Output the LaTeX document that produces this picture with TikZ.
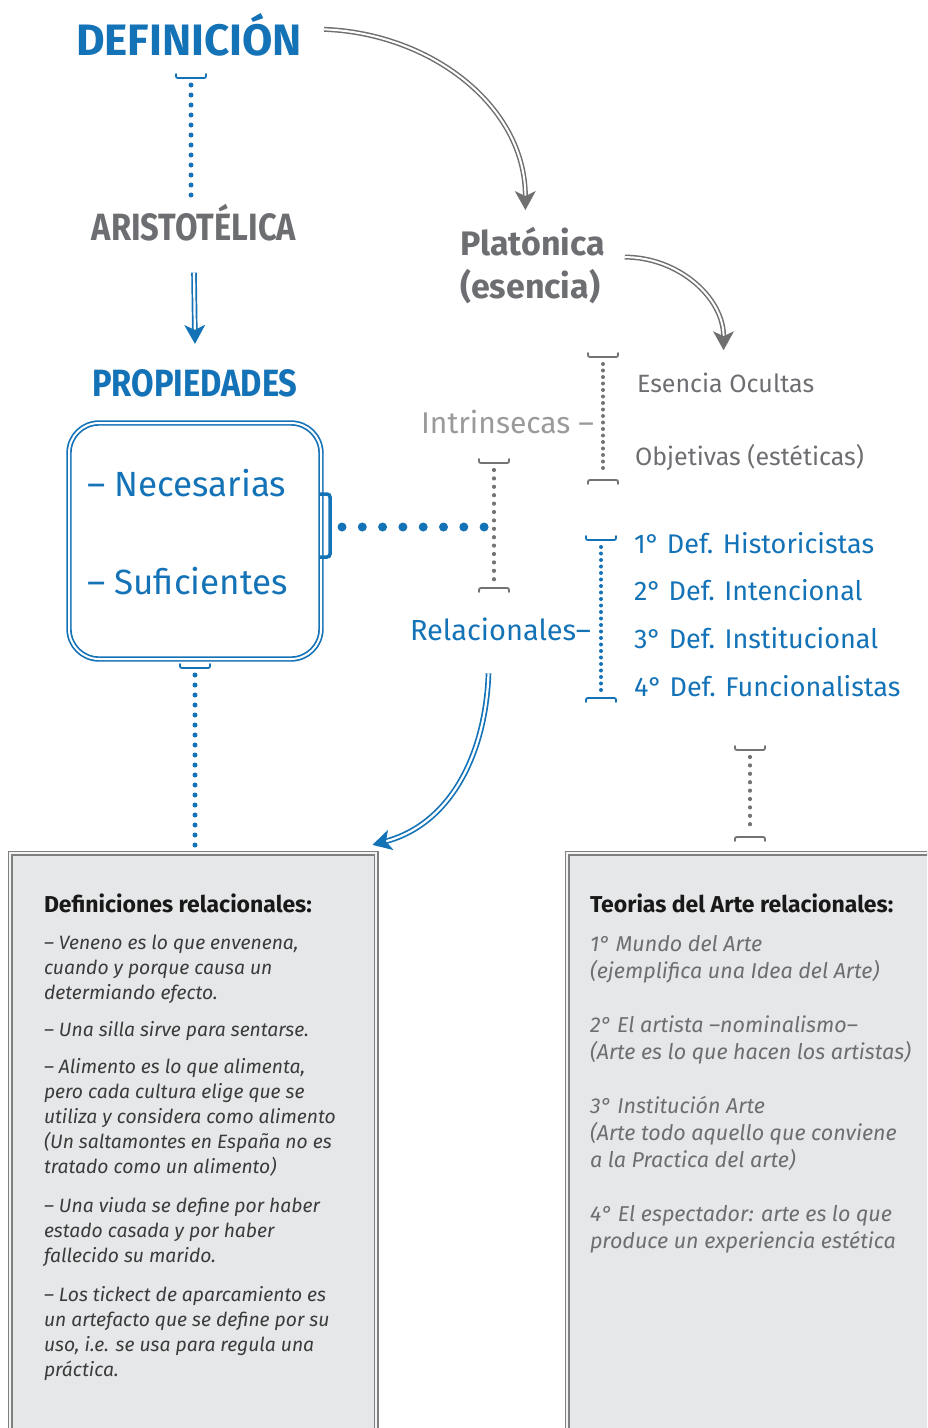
\documentclass[tikz,border=0pt]{standalone}
\usepackage{fontspec}
\setmainfont{Fira Sans}
\newfontfamily\headfont{Fira Sans}[FakeStretch=0.86]
\usetikzlibrary{arrows.meta,decorations.markings}
\definecolor{defblue}{HTML}{1472B7}
\definecolor{txtgray}{HTML}{6D6E71}
\definecolor{ltgray}{HTML}{9A9A9A}
\definecolor{dotgray}{HTML}{737373}
\definecolor{arrgray}{HTML}{707070}
\definecolor{boxfill}{HTML}{E6E7E8}
\definecolor{boxline}{HTML}{808080}
\definecolor{boxtext}{HTML}{3B3B3B}

\begin{document}
\begin{tikzpicture}[x=1pt, y=1pt,
  every node/.style={inner sep=0pt, outer sep=0pt},
  tcap/.pic={\draw[line width=1.8pt, line cap=round] (-15,4) .. controls (-15,0) .. (-11,0) -- (11,0) .. controls (15,0) .. (15,4);},
  middots/.style={line width=5pt, line cap=round, dash pattern=on 0pt off 10pt},
  smalldots/.style={line width=4pt, line cap=round, dash pattern=on 0pt off 6.5pt},
  graydots/.style={dotgray, line width=4.2pt, line cap=round, dash pattern=on 0pt off 8.4pt},
  bigdots/.style={defblue, line width=9pt, line cap=round, dash pattern=on 0pt off 20.3pt},
  arrowtip/.style={postaction={decorate, decoration={markings,
    mark=at position 0.998 with {\fill[#1] (0,0) -- (-19,10.5) -- (-14,0) -- (-19,-10.5) -- cycle;}}}},
  grayarrow/.style={draw=arrgray, line width=1.5pt, double=white, double distance=2pt,
    shorten >=14pt, arrowtip=arrgray},
  bluearrow/.style={draw=defblue, line width=1.7pt, double=white, double distance=2.2pt,
    shorten >=14pt, arrowtip=defblue},
  head/.style={font=\headfont\bfseries\fontsize{38}{38}\selectfont},
  propbox/.style={draw=defblue, line width=1.7pt, double=white, double distance=2pt,
    rounded corners=30pt, minimum width=252pt, minimum height=236pt},
  graybox/.style={fill=boxfill, draw=boxline, line width=1.5pt, double=boxfill!50!white, double distance=2pt},
  boxtitle/.style={anchor=base west, font=\bfseries\fontsize{23}{23}\selectfont, text=black!90},
]
\useasboundingbox (0,0) rectangle (927,-1428);
\clip (0,0) rectangle (927,-1428);
% left column
\node[defblue, anchor=base, font=\bfseries\fontsize{44}{44}\selectfont] (def) at (189,-55) {DEFINICIÓN};
\node[head, txtgray, anchor=base] (aris) at (194,-240) {ARISTOTÉLICA};
\node[head, defblue, anchor=base] (prop) at (195,-396) {PROPIEDADES};
\node[propbox] (pbox) at (195,-541) {};
\node[defblue, anchor=base west, font=\fontsize{35}{35}\selectfont] (nec) at (87,-496) {– Necesarias};
\node[defblue, anchor=base west, font=\fontsize{35}{35}\selectfont] (suf) at (87,-594) {– Suficientes};
% right column
\node[txtgray, anchor=base west, font=\bfseries\fontsize{34}{34}\selectfont] (plat) at (460,-255) {Platónica};
\node[txtgray, anchor=base west, font=\bfseries\fontsize{34}{34}\selectfont] (esc) at (460,-298) {(esencia)};
\node[ltgray, anchor=base east, font=\fontsize{30}{30}\selectfont] (intr) at (594,-433) {Intrinsecas –};
\node[txtgray, anchor=base west, font=\fontsize{25}{25}\selectfont] (ocul) at (637,-392) {Esencia Ocultas};
\node[txtgray, anchor=base west, font=\fontsize{25}{25}\selectfont] (obj) at (635,-465) {Objetivas (estéticas)};
\node[defblue, anchor=base east, font=\fontsize{29}{29}\selectfont] (rel) at (591,-640) {Relacionales–};
\node[defblue, anchor=base west, font=\fontsize{27}{27}\selectfont] (d1) at (634,-553) {1° Def. Historicistas};
\node[defblue, anchor=base west, font=\fontsize{27}{27}\selectfont] (d2) at (634,-600) {2° Def. Intencional};
\node[defblue, anchor=base west, font=\fontsize{27}{27}\selectfont] (d3) at (634,-648) {3° Def. Institucional};
\node[defblue, anchor=base west, font=\fontsize{27}{27}\selectfont] (d4) at (634,-696) {4° Def. Funcionalistas};
% gray boxes
\draw[graybox] (10,-853) rectangle (376,-1445);
\draw[graybox] (567,-853) rectangle (945,-1445);
\coordinate (boxL) at (376,-853);
\node[boxtitle] (tl) at (44,-912) {Definiciones relacionales:};
\node[boxtitle] (tr) at (590,-912) {Teorias del Arte relacionales:};
\node[anchor=north west, align=left, text=boxtext, font=\itshape\fontsize{19.3}{25}\selectfont] (txl) at (44,-935) {%
– Veneno es lo que envenena,\\
cuando y porque causa un\\
determiando efecto.\\[12pt]
– Una silla sirve para sentarse.\\[12pt]
– Alimento es lo que alimenta,\\
pero cada cultura elige que se\\
utiliza y considera como alimento\\
(Un saltamontes en España no es\\
tratado como un alimento)\\[14pt]
– Una viuda se define por haber\\
estado casada y por haber\\
fallecido su marido.\\[14pt]
– Los tickect de aparcamiento es\\
un artefacto que se define por su\\
uso, i.e. se usa para regula una\\
práctica.};
\node[anchor=north west, align=left, text=txtgray, font=\itshape\fontsize{21.5}{27}\selectfont] (txr) at (590,-935) {%
1° Mundo del Arte\\
(ejemplifica una Idea del Arte)\\[27pt]
2° El artista –nominalismo–\\
(Arte es lo que hacen los artistas)\\[27pt]
3° Institución Arte\\
(Arte todo aquello que conviene\\
a la Practica del arte)\\[27pt]
4° El espectador: arte es lo que\\
produce un experiencia estética};
% caps and dotted links
\coordinate (ca) at (191,-78);
\pic[defblue] at (ca) {tcap};
\draw[defblue, middots] ([yshift=-7pt]ca) -- (ca |- 0,-200);
\coordinate (cb) at (195,-668);
\pic[defblue] at (cb) {tcap};
\draw[defblue, middots] ([yshift=-7pt]cb) -- (cb |- 0,-848);
\coordinate (gt) at (494,-463);
\coordinate (gb) at (494,-588);
\pic[dotgray] at (gt) {tcap};
\pic[dotgray, rotate=180] at (gb) {tcap};
\draw[graydots] ([yshift=-7pt]gt) -- ([yshift=7pt]gb);
\coordinate (it) at (603,-357);
\coordinate (ib) at (603,-480);
\pic[dotgray] at (it) {tcap};
\pic[dotgray, rotate=180] at (ib) {tcap};
\draw[dotgray, smalldots] ([yshift=-7pt]it) -- ([yshift=6pt]ib);
\coordinate (rt) at (601,-540);
\coordinate (rb) at (601,-698);
\pic[defblue] at (rt) {tcap};
\pic[defblue, rotate=180] at (rb) {tcap};
\draw[defblue, smalldots] ([yshift=-7pt]rt) -- ([yshift=6pt]rb);
\coordinate (vt) at (750,-750);
\coordinate (vb) at (750,-837);
\pic[dotgray] at (vt) {tcap};
\pic[dotgray, rotate=180] at (vb) {tcap};
\draw[graydots] ([yshift=-7pt]vt) -- ([yshift=6pt]vb);
% tab on the box
\draw[defblue, line width=3.5pt, rounded corners=3pt] ([xshift=-1pt]pbox.east |- 0,-494) -- ++(10,0) -- ++(0,-63) -- ++(-10,0);
\draw[bigdots] ([shift={(21,14)}]pbox.east) -- (gt |- 0,-527) ;
% arrows
\draw[grayarrow] ([shift={(22,5)}]def.east) to[out=-2, in=90] ([shift={(-7,16)}]plat.north);
\draw[grayarrow] ([shift={(20,-16)}]plat.east) to[out=0, in=90] ([shift={(-2,22)}]ocul.north);
\draw[bluearrow] ([yshift=-32pt]aris.south) -- ([yshift=25pt]prop.north);
\draw[bluearrow] ([shift={(-12,-33)}]rel.south) to[out=-92, in=15] ([shift={(-4,8)}]boxL);
\end{tikzpicture}
\end{document}
